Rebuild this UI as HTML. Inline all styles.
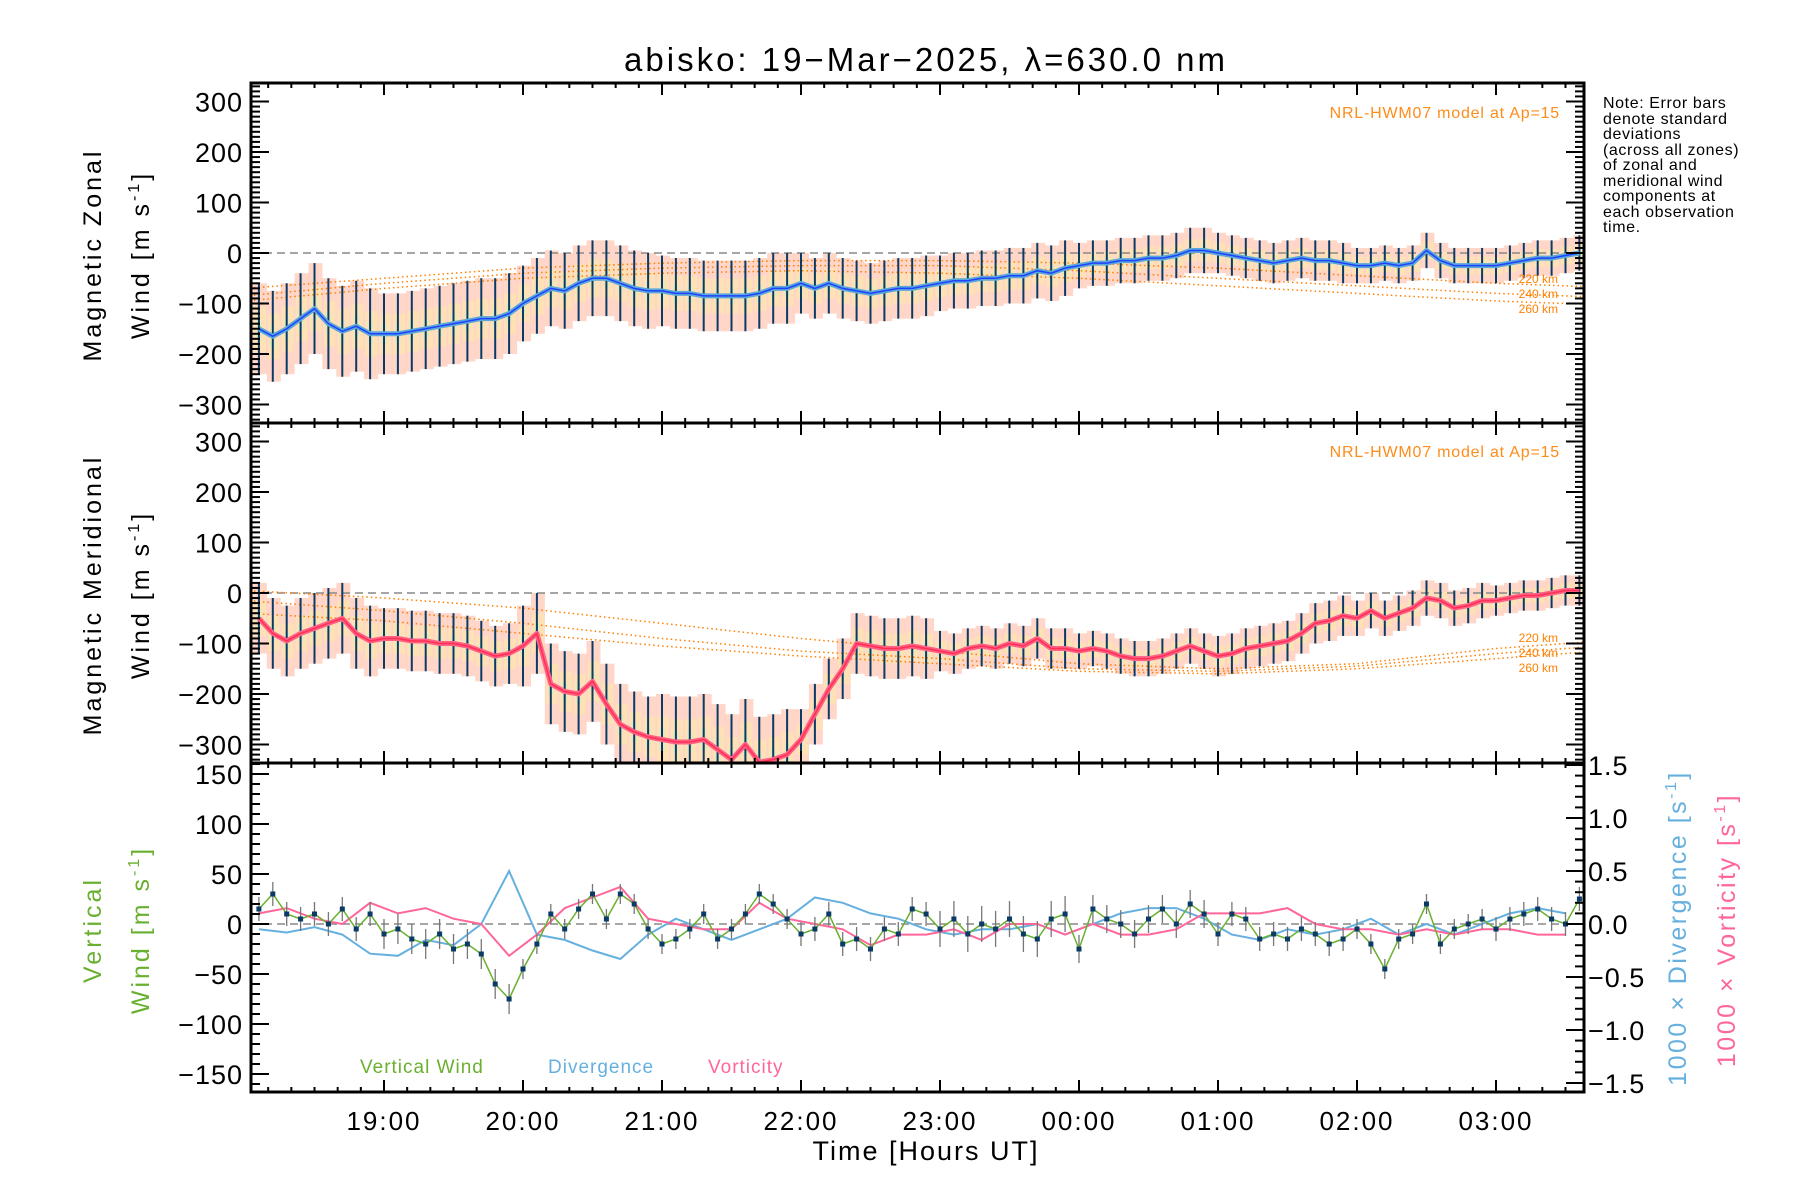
<!DOCTYPE html>
<html><head><meta charset="utf-8">
<style>
html,body{margin:0;padding:0;background:#fff;}
svg{display:block;font-family:"Liberation Sans",sans-serif;}
</style></head>
<body>
<svg id="chart" width="1800" height="1200" viewBox="0 0 1800 1200" xmlns="http://www.w3.org/2000/svg">
<defs>
<clipPath id="c1"><rect x="251" y="83" width="1333" height="340"/></clipPath>
<clipPath id="c2"><rect x="251" y="423" width="1333" height="340"/></clipPath>
<clipPath id="c3"><rect x="251" y="763" width="1333" height="329"/></clipPath>
</defs>
<text x="926" y="71" font-size="33" letter-spacing="3" text-anchor="middle">abisko: 19−Mar−2025, λ=630.0 nm</text>
<g id="g1" clip-path="url(#c1)"></g>
<g id="g2" clip-path="url(#c2)"></g>
<g id="g3" clip-path="url(#c3)"></g>
<g id="axes"></g>
<text transform="translate(101,255) rotate(-90)" font-size="25" letter-spacing="3" text-anchor="middle">Magnetic Zonal</text>
<text transform="translate(149,255) rotate(-90)" font-size="25" letter-spacing="3" text-anchor="middle">Wind [m s<tspan dy="-10" font-size="16">-1</tspan><tspan dy="10">]</tspan></text>
<text transform="translate(101,595) rotate(-90)" font-size="25" letter-spacing="3" text-anchor="middle">Magnetic Meridional</text>
<text transform="translate(149,595) rotate(-90)" font-size="25" letter-spacing="3" text-anchor="middle">Wind [m s<tspan dy="-10" font-size="16">-1</tspan><tspan dy="10">]</tspan></text>
<text transform="translate(101,930) rotate(-90)" font-size="25" letter-spacing="3" text-anchor="middle" fill="#6ab030">Vertical</text>
<text transform="translate(149,930) rotate(-90)" font-size="25" letter-spacing="3" text-anchor="middle" fill="#6ab030">Wind [m s<tspan dy="-10" font-size="16">-1</tspan><tspan dy="10">]</tspan></text>
<text transform="translate(1686,928) rotate(-90)" font-size="25" letter-spacing="2.5" text-anchor="middle" fill="#66b0e0">1000 × Divergence [s<tspan dy="-10" font-size="16">-1</tspan><tspan dy="10">]</tspan></text>
<text transform="translate(1735,930) rotate(-90)" font-size="25" letter-spacing="2.5" text-anchor="middle" fill="#ff6699">1000 × Vorticity [s<tspan dy="-10" font-size="16">-1</tspan><tspan dy="10">]</tspan></text>
<text x="926" y="1160" font-size="27" letter-spacing="2" text-anchor="middle">Time [Hours UT]</text>
<text x="1560" y="118" font-size="16" letter-spacing="0.8" text-anchor="end" fill="#ff8c1a">NRL-HWM07 model at Ap=15</text>
<text x="1560" y="457" font-size="16" letter-spacing="0.8" text-anchor="end" fill="#ff8c1a">NRL-HWM07 model at Ap=15</text>
<g font-size="19" letter-spacing="1">
<text x="360" y="1073" fill="#6ab030">Vertical Wind</text>
<text x="548" y="1073" fill="#66b0e0">Divergence</text>
<text x="708" y="1073" fill="#ff6699">Vorticity</text>
</g>
<g font-size="16" letter-spacing="0.6">
<text x="1603" y="108">Note: Error bars</text>
<text x="1603" y="124">denote standard</text>
<text x="1603" y="139">deviations</text>
<text x="1603" y="155">(across all zones)</text>
<text x="1603" y="170">of zonal and</text>
<text x="1603" y="186">meridional wind</text>
<text x="1603" y="201">components at</text>
<text x="1603" y="217">each observation</text>
<text x="1603" y="232">time.</text>
</g>
</svg>
<script>
// ---- data ----
const tStart = 18.1;
const tStep = 0.1;
const zonalMean = [-150,-165,-150,-130,-110,-140,-155,-145,-160,-160,-160,-155,-150,-145,-140,-135,-130,-130,-120,-100,-85,-70,-75,-60,-50,-50,-60,-70,-75,-75,-80,-80,-85,-85,-85,-85,-80,-70,-70,-60,-70,-60,-70,-75,-80,-75,-70,-70,-65,-60,-55,-55,-50,-50,-45,-45,-35,-40,-30,-25,-20,-20,-15,-15,-10,-10,-5,5,5,0,-5,-10,-15,-20,-15,-10,-15,-15,-20,-25,-25,-20,-25,-20,5,-15,-25,-25,-25,-25,-20,-15,-10,-10,-5,0];
const meridMean = [-50,-80,-95,-80,-70,-60,-50,-80,-95,-90,-90,-95,-95,-100,-100,-105,-115,-125,-120,-105,-80,-180,-195,-200,-175,-220,-260,-275,-285,-290,-295,-295,-290,-310,-330,-300,-335,-330,-320,-290,-240,-190,-150,-100,-105,-110,-110,-105,-110,-115,-120,-110,-105,-110,-100,-105,-90,-110,-110,-115,-110,-115,-125,-130,-130,-125,-115,-105,-115,-125,-120,-110,-105,-100,-95,-80,-60,-55,-45,-50,-35,-50,-40,-30,-10,-15,-30,-25,-15,-15,-10,-5,-5,0,5,5];
const zonalErrByHour = [90,80,75,70,60,55,45,40,35,35];
const meridErrByHour = [70,60,80,90,60,40,35,40,35,30];
const vertWind = [15,30,10,5,10,0,15,-5,10,-10,-5,-15,-20,-10,-25,-20,-30,-60,-75,-45,-20,10,-5,15,30,5,30,20,-5,-20,-15,-5,10,-15,-5,10,30,20,5,-10,-5,10,-20,-15,-25,-5,-10,15,10,-5,5,-10,0,-5,5,-10,-15,5,10,-25,15,5,0,-10,5,15,0,20,10,-10,10,5,-15,-10,-15,-5,-10,-20,-15,-5,-20,-45,-15,-10,20,-20,-5,0,5,-5,5,10,15,5,0,25];
const vertErr = [12,15,10,10,12,18,14,12,10,12];
const dvStart = 18.1;
const dvStep = 0.2;
const divergence = [-0.05,-0.08,-0.03,-0.1,-0.28,-0.3,-0.15,-0.2,0.0,0.5,-0.1,-0.15,-0.25,-0.33,-0.1,0.05,-0.05,-0.15,-0.05,0.05,0.25,0.2,0.1,0.05,-0.05,-0.1,-0.05,-0.05,0.0,-0.1,0.0,0.1,0.15,0.15,0.05,-0.1,-0.15,-0.05,-0.1,-0.05,0.05,-0.1,0.0,-0.1,0.0,0.1,0.15,0.1];
const vorticity = [0.1,0.15,0.05,0.0,0.2,0.1,0.15,0.05,0.0,-0.3,-0.1,0.15,0.25,0.35,0.05,0.0,-0.05,-0.05,0.2,0.05,0.0,-0.05,-0.2,-0.1,-0.1,-0.05,-0.15,0.0,0.0,-0.1,0.0,-0.1,-0.1,-0.05,0.1,0.1,0.1,0.15,0.0,-0.05,-0.05,-0.1,-0.05,-0.1,-0.05,-0.05,-0.1,-0.1];
const modelHours = [18,19,20,21,22,23,24,25,26,27,28];
const zonalModel220 = [-70,-50,-30,-20,-15,-15,-20,-30,-45,-60,-70];
const zonalModel240 = [-85,-60,-40,-30,-25,-25,-35,-50,-65,-80,-90];
const zonalModel260 = [-95,-70,-50,-40,-35,-40,-50,-65,-80,-95,-105];
const meridModel220 = [5,-10,-30,-60,-90,-115,-140,-150,-140,-110,-90];
const meridModel240 = [-15,-35,-60,-90,-115,-130,-150,-155,-145,-120,-100];
const meridModel260 = [-40,-55,-80,-105,-125,-140,-155,-160,-150,-130,-110];
const xTickHours = [19,20,21,22,23,24,25,26,27];
const xTickLabels = ["19:00","20:00","21:00","22:00","23:00","00:00","01:00","02:00","03:00"];
const windTicks = [300,200,100,0,-100,-200,-300];
const vertTicks = [150,100,50,0,-50,-100,-150];
const rightTicks = [1.5,1.0,0.5,0.0,-0.5,-1.0,-1.5];

// ---- scales ----
const NS = "http://www.w3.org/2000/svg";
const X0 = 251, X1 = 1584, X19 = 384, HPX = 139.0;
function xs(h){ return X19 + (h-19)*HPX; }
const P = [
  {top:83,bot:423,zero:253,k:0.505},
  {top:423,bot:763,zero:593,k:0.505},
  {top:763,bot:1092,zero:924,k:1.0}
];
function ys(p,v){ return P[p].zero - v*P[p].k; }
function yr(v){ return 924 - v*106; }
function mk(tag, attrs, parent){
  const e = document.createElementNS(NS, tag);
  for (const k in attrs) e.setAttribute(k, attrs[k]);
  parent.appendChild(e); return e;
}
const axes = document.getElementById('axes');

function drawWindPanel(pi, gid, mean, errH, m220, m240, m260, name){
  const g = document.getElementById(gid);
  const band = mk('g', {}, g);
  
  
  mean.forEach((v,i)=>{
    const t = tStart + i*tStep;
    const e = errH[Math.min(9, Math.floor(t-18))];
    const x = xs(t);
    mk('rect',{x:x-6,y:ys(pi,v+e),width:14,height:e*2*P[pi].k,fill:'#ffb49a',opacity:0.55},band);
    mk('rect',{x:x-5,y:ys(pi,v+e*0.5),width:12,height:e*P[pi].k,fill:'#fff0a0',opacity:0.45},band);
    mk('rect',{x:x-3,y:ys(pi,v+e*0.25),width:6,height:e*0.5*P[pi].k,fill:'#c8f0c8',opacity:0.4},band);
  });
  const z = mk('line',{x1:X0,x2:X1,y1:ys(pi,0),y2:ys(pi,0),stroke:'#888','stroke-width':1.5,'stroke-dasharray':'8,5'},g);
  
  
  [m220,m240,m260].forEach((arr,j)=>{
    const d = arr.map((v,i)=>(i?'L':'M')+xs(modelHours[i]).toFixed(1)+','+ys(pi,v).toFixed(1)).join(' ');
    const l = mk('path',{d:d,fill:'none',stroke:'#ff8000','stroke-width':1.5,'stroke-dasharray':'1.5,3'},g);
    
    
  });
  const eb = mk('g',{stroke:'#0a3a66','stroke-width':2},g);
  
  
  mean.forEach((v,i)=>{
    const t = tStart + i*tStep;
    const e = errH[Math.min(9, Math.floor(t-18))];
    mk('line',{x1:xs(t),x2:xs(t),y1:ys(pi,v+e),y2:ys(pi,v-e)},eb);
  });
  const col = pi===0 ? '#5aa8d8' : '#ff6088';
  const d = mean.map((v,i)=>(i?'L':'M')+xs(tStart+i*tStep).toFixed(1)+','+ys(pi,v).toFixed(1)).join(' ');
  const ln = mk('path',{d:d,fill:'none',stroke:col,'stroke-width':5,'stroke-linejoin':'round'},g);
  
  
  const ln2 = mk('path',{d:d,fill:'none',stroke:pi===0?'#2040ff':'#ff3050','stroke-width':1.5},g);
  
  
  const ya = pi===0 ? [283,298,313] : [642,657,672];
  ['220 km','240 km','260 km'].forEach((s,j)=>{
    const tx = mk('text',{x:1558,y:ya[j],'font-size':12,'text-anchor':'end',fill:'#ff8000'},axes);
    tx.textContent = s;
    
    
  });
}
drawWindPanel(0,'g1',zonalMean,zonalErrByHour,zonalModel220,zonalModel240,zonalModel260,'zonal');
drawWindPanel(1,'g2',meridMean,meridErrByHour,meridModel220,meridModel240,meridModel260,'meridional');

(function(){
  const g = document.getElementById('g3');
  const z = mk('line',{x1:X0,x2:X1,y1:ys(2,0),y2:ys(2,0),stroke:'#888','stroke-width':1.5,'stroke-dasharray':'8,5'},g);
  
  
  const dd = divergence.map((v,i)=>(i?'L':'M')+xs(dvStart+i*dvStep).toFixed(1)+','+yr(v).toFixed(1)).join(' ');
  const dl = mk('path',{d:dd,fill:'none',stroke:'#66b0e0','stroke-width':2},g);
  
  
  const vd = vorticity.map((v,i)=>(i?'L':'M')+xs(dvStart+i*dvStep).toFixed(1)+','+yr(v).toFixed(1)).join(' ');
  const vl = mk('path',{d:vd,fill:'none',stroke:'#ff6699','stroke-width':2},g);
  
  
  const eb = mk('g',{stroke:'#777','stroke-width':1.3},g);
  
  
  vertWind.forEach((v,i)=>{
    const t = tStart + i*tStep;
    const e = vertErr[Math.min(9, Math.floor(t-18))];
    mk('line',{x1:xs(t),x2:xs(t),y1:ys(2,v+e),y2:ys(2,v-e)},eb);
  });
  const wd = vertWind.map((v,i)=>(i?'L':'M')+xs(tStart+i*tStep).toFixed(1)+','+ys(2,v).toFixed(1)).join(' ');
  const wl = mk('path',{d:wd,fill:'none',stroke:'#6ab030','stroke-width':1.5},g);
  
  
  const pts = mk('g',{fill:'#0a3a66'},g);
  
  
  vertWind.forEach((v,i)=>{
    mk('rect',{x:xs(tStart+i*tStep)-2.5,y:ys(2,v)-2.5,width:5,height:5},pts);
  });
})();

P.forEach((p,pi)=>{
  const fr = mk('rect',{x:X0,y:p.top,width:X1-X0,height:p.bot-p.top,fill:'none',stroke:'#000','stroke-width':3},axes);
  
  
  const tk = mk('g',{stroke:'#000','stroke-width':2},axes);
  
  
  for (let m = 18*6+1; m <= 27*6+5; m++){
    const h = m/6, x = xs(h);
    if (x < X0 || x > X1) continue;
    const L = (m%6===0) ? 12 : 5;
    mk('line',{x1:x,x2:x,y1:p.bot,y2:p.bot-L},tk);
    mk('line',{x1:x,x2:x,y1:p.top,y2:p.top+L},tk);
  }
  const vmax = (p.zero-p.top)/p.k, vmin = -(p.bot-p.zero)/p.k;
  for (let v = Math.ceil(vmin/10)*10; v <= vmax; v += 10){
    const y = ys(pi,v);
    const major = (pi<2 ? v%100===0 : v%50===0);
    const L = major ? 18 : 9;
    mk('line',{x1:X0,x2:X0+L,y1:y,y2:y},tk);
    if (pi<2) mk('line',{x1:X1,x2:X1-L,y1:y,y2:y},tk);
  }
  const labs = pi<2 ? windTicks : vertTicks;
  labs.forEach(v=>{
    const t = mk('text',{x:X0-8,y:ys(pi,v)+10,'font-size':27,'letter-spacing':1,'text-anchor':'end'},axes);
    t.textContent = v<0 ? '−'+(-v) : String(v);
    
    
  });
});
(function(){
  const tk = mk('g',{stroke:'#000','stroke-width':2},axes);
  
  
  for (let i = -15; i <= 15; i++){
    const v = i/10, y = yr(v);
    if (y < 763 || y > 1092) continue;
    const L = (i%5===0) ? 18 : 9;
    mk('line',{x1:X1,x2:X1-L,y1:y,y2:y},tk);
  }
  rightTicks.forEach(v=>{
    const t = mk('text',{x:X1+4,y:yr(v)+10,'font-size':27,'letter-spacing':1},axes);
    t.textContent = (v<0?'−':'') + Math.abs(v).toFixed(1);
    
    
  });
})();
xTickHours.forEach((h,i)=>{
  const t = mk('text',{x:xs(h),y:1130,'font-size':26,'letter-spacing':2,'text-anchor':'middle'},axes);
  t.textContent = xTickLabels[i];
  
  
});
</script>
</body></html>
